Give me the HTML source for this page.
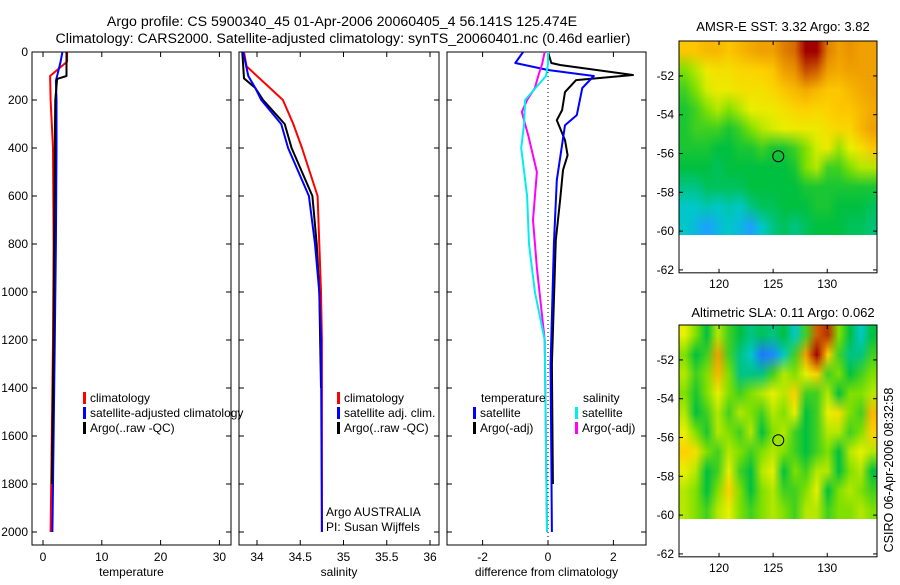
<!DOCTYPE html>
<html><head><meta charset="utf-8">
<style>
body{margin:0;background:#fff;width:900px;height:580px;overflow:hidden;font-family:"Liberation Sans",sans-serif}
svg text{font-family:"Liberation Sans",sans-serif;fill:#000}
</style></head>
<body>
<svg id="s" width="900" height="580" xmlns="http://www.w3.org/2000/svg">
<text x="342" y="26" font-size="14.2" text-anchor="middle">Argo profile: CS 5900340_45 01-Apr-2006 20060405_4 56.141S 125.474E</text>
<text x="343" y="43" font-size="14.2" text-anchor="middle">Climatology: CARS2000. Satellite-adjusted climatology: synTS_20060401.nc (0.46d earlier)</text>
<text x="783" y="31" font-size="13" text-anchor="middle">AMSR-E SST: 3.32 Argo: 3.82</text>
<text x="783" y="317" font-size="13" text-anchor="middle">Altimetric SLA: 0.11 Argo: 0.062</text>
<text transform="translate(893,470) rotate(-90)" font-size="12.5" text-anchor="middle">CSIRO 06-Apr-2006 08:32:58</text>
</svg>
<script>
// ---- data ----
const depthTicks=[0,200,400,600,800,1000,1200,1400,1600,1800,2000];
const tTicks=[0,10,20,30];
const sTicks=[34,34.5,35,35.5,36];
const dTicks=[-2,0,2];
const tClimZ=[0,40,100,200,400,800,1200,1600,2000];
const tClimV=[4.1,4.1,1.2,1.3,1.7,1.8,1.7,1.5,1.3];
const tSatZ=[0,40,80,120,200,400,800,1200,1600,2000];
const tSatV=[3.3,3.0,2.6,2.2,2.3,2.3,2.2,2.0,1.8,1.6];
const tArgoZ=[0,100,112,200,400,800,1200,1600,1800];
const tArgoV=[4.0,4.0,2.4,2.1,2.0,1.9,1.8,1.6,1.5];
const sClimZ=[0,60,150,200,300,400,600,800,1000,1200,2000];
const sClimV=[33.85,33.88,34.15,34.3,34.42,34.52,34.7,34.72,34.74,34.75,34.75];
const sSatZ=[0,100,150,200,300,400,600,800,1000,1200,2000];
const sSatV=[33.84,33.9,33.98,34.05,34.28,34.36,34.6,34.67,34.72,34.74,34.75];
const sArgoZ=[0,110,150,200,300,400,600,800,1000,1400];
const sArgoV=[33.83,33.85,33.98,34.07,34.32,34.4,34.64,34.69,34.72,34.74];
const dTSatZ=[0,46,75,100,150,263,305,534,800,1300,2000];
const dTSatV=[-0.76,-1.0,0,1.4,1.05,0.88,0.52,0.27,0.18,0.08,0.12];
const dTArgoZ=[0,46,54,96,117,167,242,284,367,430,492,617,784,1300,1800];
const dTArgoV=[0,0.1,0.37,2.6,0.86,0.52,0.43,0.27,0.52,0.6,0.46,0.37,0.24,0.12,0.15];
const dSSatZ=[0,50,100,200,300,400,600,800,1000,1200,2000];
const dSSatV=[0,0,-0.06,-0.7,-0.73,-0.82,-0.64,-0.58,-0.4,-0.1,-0.03];
const dSArgoZ=[0,50,100,150,200,250,350,500,700,900,1200,2000];
const dSArgoV=[-0.1,-0.18,-0.3,-0.4,-0.64,-0.8,-0.6,-0.34,-0.46,-0.34,-0.1,-0.03];
const lonTicks=[120,125,130];
const latTicks=[-52,-54,-56,-58,-60,-62];
const sstGrid=[
[0.72,0.72,0.75,0.75,0.72,0.75,0.78,0.8,0.8,0.85,0.88,1.0,1.0,0.85,0.8,0.82,0.8,0.8],
[0.5,0.55,0.62,0.65,0.65,0.68,0.68,0.7,0.72,0.8,0.82,0.92,0.9,0.8,0.78,0.8,0.8,0.8],
[0.45,0.5,0.58,0.62,0.62,0.65,0.65,0.65,0.68,0.72,0.75,0.78,0.75,0.72,0.72,0.75,0.78,0.8],
[0.42,0.45,0.5,0.55,0.5,0.55,0.6,0.62,0.62,0.65,0.68,0.7,0.68,0.7,0.72,0.72,0.75,0.78],
[0.42,0.45,0.45,0.45,0.42,0.45,0.5,0.55,0.58,0.6,0.62,0.62,0.62,0.65,0.68,0.68,0.75,0.8],
[0.42,0.42,0.42,0.4,0.4,0.42,0.42,0.45,0.42,0.42,0.45,0.5,0.58,0.62,0.52,0.6,0.65,0.72],
[0.4,0.4,0.4,0.38,0.4,0.4,0.4,0.4,0.4,0.4,0.42,0.5,0.55,0.45,0.45,0.5,0.55,0.55],
[0.35,0.35,0.38,0.38,0.38,0.38,0.4,0.4,0.4,0.4,0.4,0.42,0.42,0.42,0.42,0.42,0.42,0.42],
[0.3,0.3,0.32,0.3,0.32,0.3,0.35,0.38,0.38,0.4,0.4,0.4,0.42,0.42,0.4,0.4,0.4,0.38],
[0.3,0.28,0.25,0.28,0.3,0.28,0.25,0.3,0.35,0.38,0.35,0.38,0.4,0.4,0.4,0.38,0.38,0.36]];
const slaGrid=[
[0.6,0.5,0.4,0.55,0.45,0.4,0.35,0.38,0.35,0.4,0.3,0.45,0.9,0.95,0.5,0.4,0.3,0.4],
[0.5,0.4,0.45,0.8,0.45,0.35,0.3,0.2,0.22,0.3,0.45,0.8,1.0,0.7,0.45,0.35,0.35,0.45],
[0.55,0.45,0.5,0.75,0.5,0.35,0.35,0.35,0.45,0.55,0.5,0.6,0.7,0.45,0.5,0.4,0.45,0.5],
[0.5,0.42,0.5,0.6,0.5,0.45,0.5,0.55,0.6,0.55,0.7,0.45,0.45,0.55,0.4,0.5,0.5,0.55],
[0.55,0.4,0.45,0.55,0.45,0.55,0.5,0.45,0.55,0.5,0.6,0.4,0.45,0.6,0.65,0.5,0.45,0.75],
[0.6,0.5,0.42,0.55,0.5,0.45,0.55,0.4,0.5,0.55,0.45,0.4,0.45,0.55,0.55,0.45,0.5,0.7],
[0.7,0.65,0.5,0.45,0.55,0.5,0.45,0.5,0.55,0.5,0.45,0.4,0.45,0.5,0.4,0.55,0.6,0.55],
[0.6,0.55,0.4,0.45,0.6,0.45,0.4,0.55,0.6,0.4,0.5,0.45,0.55,0.55,0.4,0.5,0.55,0.4],
[0.55,0.5,0.4,0.5,0.7,0.5,0.4,0.5,0.55,0.45,0.45,0.5,0.6,0.4,0.5,0.55,0.5,0.45],
[0.55,0.5,0.45,0.55,0.6,0.5,0.45,0.5,0.55,0.5,0.45,0.55,0.55,0.45,0.5,0.5,0.55,0.5]];
const argoLon=125.474, argoLat=-56.141;

// ---- helpers ----
const NS='http://www.w3.org/2000/svg';
const svg=document.getElementById('s');
function mk(tag,attrs,parent){const e=document.createElementNS(NS,tag);for(const k in attrs)e.setAttribute(k,attrs[k]);(parent||svg).appendChild(e);return e;}
const Y=z=>52+z*0.24;
function panel(name,x0,x1,sx,xt,label){
  const g=mk('g',{});
  
  
  const r=mk('rect',{x:x0,y:52,width:x1-x0,height:493,fill:'none',stroke:'#000','stroke-width':1},g);
  
  
  depthTicks.forEach(d=>{
    mk('line',{x1:x0,x2:x0+5,y1:Y(d),y2:Y(d),stroke:'#000'},g);
    mk('line',{x1:x1-5,x2:x1,y1:Y(d),y2:Y(d),stroke:'#000'},g);
  });
  xt.forEach(v=>{
    const x=sx(v);
    mk('line',{x1:x,x2:x,y1:545,y2:540,stroke:'#000'},g);
    mk('line',{x1:x,x2:x,y1:52,y2:57,stroke:'#000'},g);
    const t=mk('text',{x:x,y:561,'font-size':12,'text-anchor':'middle'},g);t.textContent=v;
    
    
  });
  const l=mk('text',{x:(x0+x1)/2,y:576,'font-size':12,'text-anchor':'middle'},g);l.textContent=label;
  
  
  return g;
}
function line(g,name,Z,V,sx,color,w){
  const pts=Z.map((z,i)=>sx(V[i]).toFixed(1)+','+Y(z).toFixed(1)).join(' ');
  const p=mk('polyline',{points:pts,fill:'none',stroke:color,'stroke-width':w||2,'stroke-linejoin':'round'},g);
  
  
}
function legend(g,x,y,items){
  items.forEach((it,i)=>{
    mk('rect',{x:x,y:y+i*15-10,width:3,height:12,fill:it[1]},g);
    const t=mk('text',{x:x+7,y:y+i*15,'font-size':12},g);t.textContent=it[0];
    
    
  });
}
depthTicks.forEach(d=>{
  const t=mk('text',{x:28,y:Y(d)+4,'font-size':12,'text-anchor':'end'});t.textContent=d;
  
  
});
const sxT=v=>43+v*5.88;
const g1=panel('temperature-panel',32,231,sxT,tTicks,'temperature');
line(g1,'temp-climatology',tClimZ,tClimV,sxT,'#f00');
line(g1,'temp-satellite-adjusted',tSatZ,tSatV,sxT,'#00f');
line(g1,'temp-argo',tArgoZ,tArgoV,sxT,'#000');
legend(g1,83,402,[['climatology','#f00'],['satellite-adjusted climatology','#00f'],['Argo(..raw -QC)','#000']]);
const sxS=v=>257+(v-34)*86.5;
const g2=panel('salinity-panel',239,439,sxS,sTicks,'salinity');
line(g2,'sal-climatology',sClimZ,sClimV,sxS,'#f00');
line(g2,'sal-argo',sArgoZ,sArgoV,sxS,'#000');
line(g2,'sal-satellite-adjusted',sSatZ,sSatV,sxS,'#00f');
legend(g2,337,402,[['climatology','#f00'],['satellite adj. clim.','#00f'],['Argo(..raw -QC)','#000']]);
[['Argo AUSTRALIA',516],['PI: Susan Wijffels',531]].forEach(a=>{const t=mk('text',{x:326,y:a[1],'font-size':12},g2);t.textContent=a[0];
 
 });
const sxD=v=>548+v*32.7;
const g3=panel('difference-panel',447,646,sxD,dTicks,'difference from climatology');
mk('line',{x1:548,x2:548,y1:52,y2:545,stroke:'#000','stroke-dasharray':'1,3'},g3);
line(g3,'diff-temp-argo',dTArgoZ,dTArgoV,sxD,'#000');
line(g3,'diff-temp-satellite',dTSatZ,dTSatV,sxD,'#00f');
line(g3,'diff-sal-argo',dSArgoZ,dSArgoV,sxD,'#f0f');
line(g3,'diff-sal-satellite',dSSatZ,dSSatV,sxD,'#0ee');
const lt=mk('text',{x:481,y:402,'font-size':12},g3);lt.textContent='temperature';
const ls=mk('text',{x:583,y:402,'font-size':12},g3);ls.textContent='salinity';
legend(g3,473,417,[['satellite','#00f'],['Argo(-adj)','#000']]);
legend(g3,575,417,[['satellite','#0ee'],['Argo(-adj)','#f0f']]);
const stops=[[0.2,[30,120,255]],[0.25,[30,160,255]],[0.3,[0,200,200]],[0.4,[0,192,64]],[0.5,[128,224,0]],[0.6,[232,240,0]],[0.7,[255,208,0]],[0.8,[240,160,0]],[0.9,[208,96,0]],[1.0,[160,0,0]]];
function cmap(v){
  if(v<=stops[0][0])return stops[0][1];
  for(let i=1;i<stops.length;i++){if(v<=stops[i][0]){const a=stops[i-1],b=stops[i],f=(v-a[0])/(b[0]-a[0]);return a[1].map((c,k)=>Math.round(c+(b[1][k]-c)*f));}}
  return stops[stops.length-1][1];
}
function map(name,grid,top){
  const x0=679,x1=877,lon0=116.3,lon1=134.6,lat0=-50.2,ppd=19.4;
  const sx=l=>x0+(l-lon0)*(x1-x0)/(lon1-lon0);
  const sy=la=>top+(lat0-la)*ppd;
  const g=mk('g',{});
  
  
  const cv=document.createElement('canvas');cv.width=grid[0].length;cv.height=grid.length;
  const ctx=cv.getContext('2d');
  grid.forEach((row,r)=>row.forEach((v,c)=>{const col=cmap(v);ctx.fillStyle='rgb('+col.join(',')+')';ctx.fillRect(c,r,1,1);}));
  const fo=mk('foreignObject',{x:x0,y:top,width:x1-x0,height:sy(-60.2)-top},g);
  
  
  cv.style.cssText='width:'+(x1-x0)+'px;height:'+(sy(-60.2)-top)+'px;display:block';
  fo.appendChild(cv);
  const bottom=sy(-62.15);
  mk('rect',{x:x0,y:top,width:x1-x0,height:bottom-top,fill:'none',stroke:'#000'},g);
  lonTicks.forEach(l=>{const x=sx(l);
    mk('line',{x1:x,x2:x,y1:top,y2:top+4,stroke:'#000'},g);
    mk('line',{x1:x,x2:x,y1:bottom,y2:bottom-4,stroke:'#000'},g);
    const t=mk('text',{x:x,y:bottom+15,'font-size':12,'text-anchor':'middle'},g);t.textContent=l;
    
    });
  latTicks.forEach(la=>{const y=sy(la);
    mk('line',{x1:x0,x2:x0+4,y1:y,y2:y,stroke:'#000'},g);
    mk('line',{x1:x1-4,x2:x1,y1:y,y2:y,stroke:'#000'},g);
    const t=mk('text',{x:x0-5,y:y+4,'font-size':12,'text-anchor':'end'},g);t.textContent=la;
    
    });
  const c=mk('circle',{cx:sx(argoLon),cy:sy(argoLat),r:5.5,fill:'none',stroke:'#000'},g);
  
  
}
map('sst-map',sstGrid,41);
map('sla-map',slaGrid,325);
</script>
</body></html>
